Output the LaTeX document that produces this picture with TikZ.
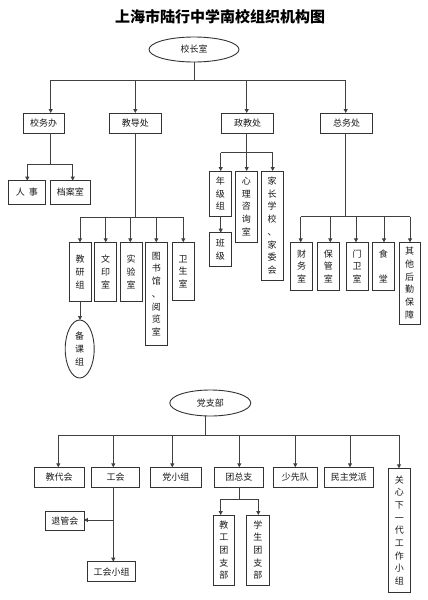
\documentclass[tikz,border=0pt]{standalone}
\usepackage{fontspec}
\newfontfamily\cjk{Noto Sans CJK SC}
\usetikzlibrary{arrows.meta,shapes.geometric}
\begin{document}
\begin{tikzpicture}[x=1pt,y=-1pt,
  every node/.style={inner sep=0pt,outer sep=0pt,text=black!90},
  bx/.style={draw=black!80,line width=0.9pt,fill=white,font=\cjk\fontsize{9}{12.7}\selectfont,align=center},
  ov/.style={ellipse,draw=black!80,line width=0.9pt,fill=white,font=\cjk\fontsize{9}{12.7}\selectfont,align=center},
  ln/.style={draw=black!75,line width=0.9pt},
  arr/.style={ln,-{Triangle[width=4pt,length=4pt]}},
  sz/.style 2 args={minimum width=#1,minimum height=#2}]
\useasboundingbox (0,0) rectangle (428,600);

% title
\node[font=\cjk\bfseries\fontsize{15}{15}\selectfont,text=black] (title) at (220,17) {上海市陆行中学南校组织机构图};

% top
\node[ov,sz={90}{25}] (xzs) at (194,49.5) {校长室};
\node[bx,sz={40.7}{20}] (xwb) at (43.7,123) {校务办};
\node[bx,sz={52}{20}] (jdc) at (135.3,123) {教导处};
\node[bx,sz={51.7}{20}] (zjc) at (247.5,123) {政教处};
\node[bx,sz={51.7}{20}] (zwc) at (346.5,123) {总务处};

\coordinate (b1) at (194,80);
\coordinate (b1L) at (50.7,80);
\coordinate (b1R) at (345.7,80);
\draw[ln] (xzs.south) -- (b1);
\draw[ln] (b1L) -- (b1R);
\draw[arr] (b1L) -- (xwb.north -| b1L);
\draw[arr] (jdc.north |- b1) -- (jdc.north);
\draw[arr] (246.7,80) coordinate (b1c) -- (zjc.north -| b1c);
\draw[arr] (b1R) -- (zwc.north -| b1R);

% 校务办
\node[bx,sz={37.3}{23.3}] (rs) at (27,192.3) {人\hspace{4pt}事};
\node[bx,sz={40.7}{23.3}] (das) at (70.3,192.3) {档案室};
\coordinate (b2L) at (27.3,164);
\coordinate (b2R) at (72.7,164);
\draw[ln] (xwb.south -| b1L) -- (b1L |- b2L);
\draw[ln] (b2L) -- (b2R);
\draw[arr] (b2L) -- (rs.north -| b2L);
\draw[arr] (b2R) -- (das.north -| b2R);

% 教导处
\node[bx,sz={21.7}{59}] (jyz) at (80.2,271.8) {教\\研\\组};
\node[bx,sz={22}{59}] (wys) at (105.7,271.8) {文\\印\\室};
\node[bx,sz={22}{59}] (sys) at (131,271.8) {实\\验\\室};
\node[bx,sz={22}{103.4}] (tsg) at (156.3,294) {图\\书\\馆\\、\\阅\\览\\室};
\node[bx,sz={22.3}{58.4}] (wss) at (183.2,271.5) {卫\\生\\室};
\node[ov,sz={29}{58}] (bkz) at (79.7,349) {备\\课\\组};
\coordinate (b3L) at (80,217.3);
\coordinate (b3R) at (183.3,217.3);
\draw[ln] (jdc.south) -- (jdc.south |- b3L);
\draw[ln] (b3L) -- (b3R);
\draw[arr] (b3L) -- (jyz.north -| b3L);
\draw[arr] (wys.north |- b3L) -- (wys.north);
\draw[arr] (130.3,217.3) coordinate (b3c) -- (sys.north -| b3c);
\draw[arr] (tsg.north |- b3L) -- (tsg.north);
\draw[arr] (b3R) -- (wss.north -| b3R);
\draw[arr] (jyz.south -| b3L) -- (bkz.north -| b3L);

% 政教处
\node[bx,sz={22.7}{45}] (njz) at (220.3,193.5) {年\\级\\组};
\node[bx,sz={22}{71}] (xlzx) at (246.3,206.5) {心\\理\\咨\\询\\室};
\node[bx,sz={22.3}{109}] (jzxx) at (272.2,225.5) {家\\长\\学\\校\\、\\家\\委\\会};
\node[bx,sz={22.7}{33.3}] (bj) at (220.3,249.3) {班\\级};
\coordinate (b4L) at (220.7,152.7);
\coordinate (b4R) at (272.7,152.7);
\draw[ln] (zjc.south -| b1c) -- (b1c |- b4L);
\draw[ln] (b4L) -- (b4R);
\draw[arr] (b4L) -- (njz.north -| b4L);
\draw[arr] (b1c |- b4L) -- (xlzx.north -| b1c);
\draw[arr] (b4R) -- (jzxx.north -| b4R);
\draw[arr] (njz.south -| b4L) -- (bj.north -| b4L);

% 总务处
\node[bx,sz={21.6}{47.7}] (cws) at (301.5,266.2) {财\\务\\室};
\node[bx,sz={22}{47.7}] (bgs) at (328.3,266.2) {保\\管\\室};
\node[bx,sz={22.3}{47.7}] (mws) at (357.2,266.2) {门\\卫\\室};
\node[bx,sz={22}{47.7}] (st) at (383.3,266.2) {食\\\strut\\堂};
\node[bx,sz={20.7}{81.7}] (qt) at (409.7,283.2) {其\\他\\后\\勤\\保\\障};
\coordinate (b5L) at (300.7,216.7);
\coordinate (b5R) at (410,216.7);
\draw[ln] (zwc.south -| b1R) -- (b1R |- b5L);
\draw[ln] (b5L) -- (b5R);
\draw[arr] (b5L) -- (cws.north -| b5L);
\draw[arr] (330.3,216.7) coordinate (b5a) -- (bgs.north -| b5a);
\draw[arr] (356,216.7) coordinate (b5b) -- (mws.north -| b5b);
\draw[arr] (384,216.7) coordinate (b5c) -- (st.north -| b5c);
\draw[arr] (b5R) -- (qt.north -| b5R);

% 党支部
\node[ov,sz={81}{26}] (dzb) at (210.3,403) {党支部};
\node[bx,sz={49.7}{20}] (jdh) at (59.2,477.3) {教代会};
\node[bx,sz={47.6}{20}] (gh) at (115.5,477.3) {工会};
\node[bx,sz={51.7}{20}] (dxz) at (175.8,477.3) {党小组};
\node[bx,sz={49}{20}] (tzz) at (238.8,477.3) {团总支};
\node[bx,sz={44}{20}] (sxd) at (295.3,477.3) {少先队};
\node[bx,sz={49}{20}] (mzdp) at (348.8,477.3) {民主党派};
\node[bx,sz={21.3}{124}] (gx) at (399.3,530.3) {关\\心\\下\\一\\代\\工\\作\\小\\组};
\coordinate (b6) at (205.5,435);
\coordinate (b6L) at (58.3,435);
\coordinate (b6R) at (399,435);
\draw[ln] (dzb.south -| b6) -- (b6);
\draw[ln] (b6L) -- (b6R);
\draw[arr] (b6L) -- (jdh.north -| b6L);
\draw[arr] (113.3,435) coordinate (b6a) -- (gh.north -| b6a);
\draw[arr] (172.3,435) coordinate (b6b) -- (dxz.north -| b6b);
\draw[arr] (239.3,435) coordinate (b6c) -- (tzz.north -| b6c);
\draw[arr] (sxd.north |- b6) -- (sxd.north);
\draw[arr] (350,435) coordinate (b6d) -- (mzdp.north -| b6d);
\draw[arr] (b6R) -- (gx.north -| b6R);

% 工会
\node[bx,sz={38.3}{19}] (tgh) at (64.8,521.2) {退管会};
\node[bx,sz={48.4}{20}] (ghxz) at (111.5,571.7) {工会小组};
\coordinate (b7) at (113.3,520);
\draw[arr] (gh.south -| b6a) -- (ghxz.north -| b6a);
\draw[arr] (b7) -- (tgh.east |- b7);

% 团总支
\node[bx,sz={21}{70}] (jgtzb) at (223.8,550) {教\\工\\团\\支\\部};
\node[bx,sz={22.3}{70}] (xstzb) at (257.8,550) {学\\生\\团\\支\\部};
\coordinate (b8L) at (220.7,499.3);
\coordinate (b8R) at (258.3,499.3);
\draw[ln] (tzz.south -| b6c) -- (b6c |- b8L);
\draw[ln] (b8L) -- (b8R);
\draw[arr] (b8L) -- (jgtzb.north -| b8L);
\draw[arr] (b8R) -- (xstzb.north -| b8R);
\end{tikzpicture}
\end{document}
